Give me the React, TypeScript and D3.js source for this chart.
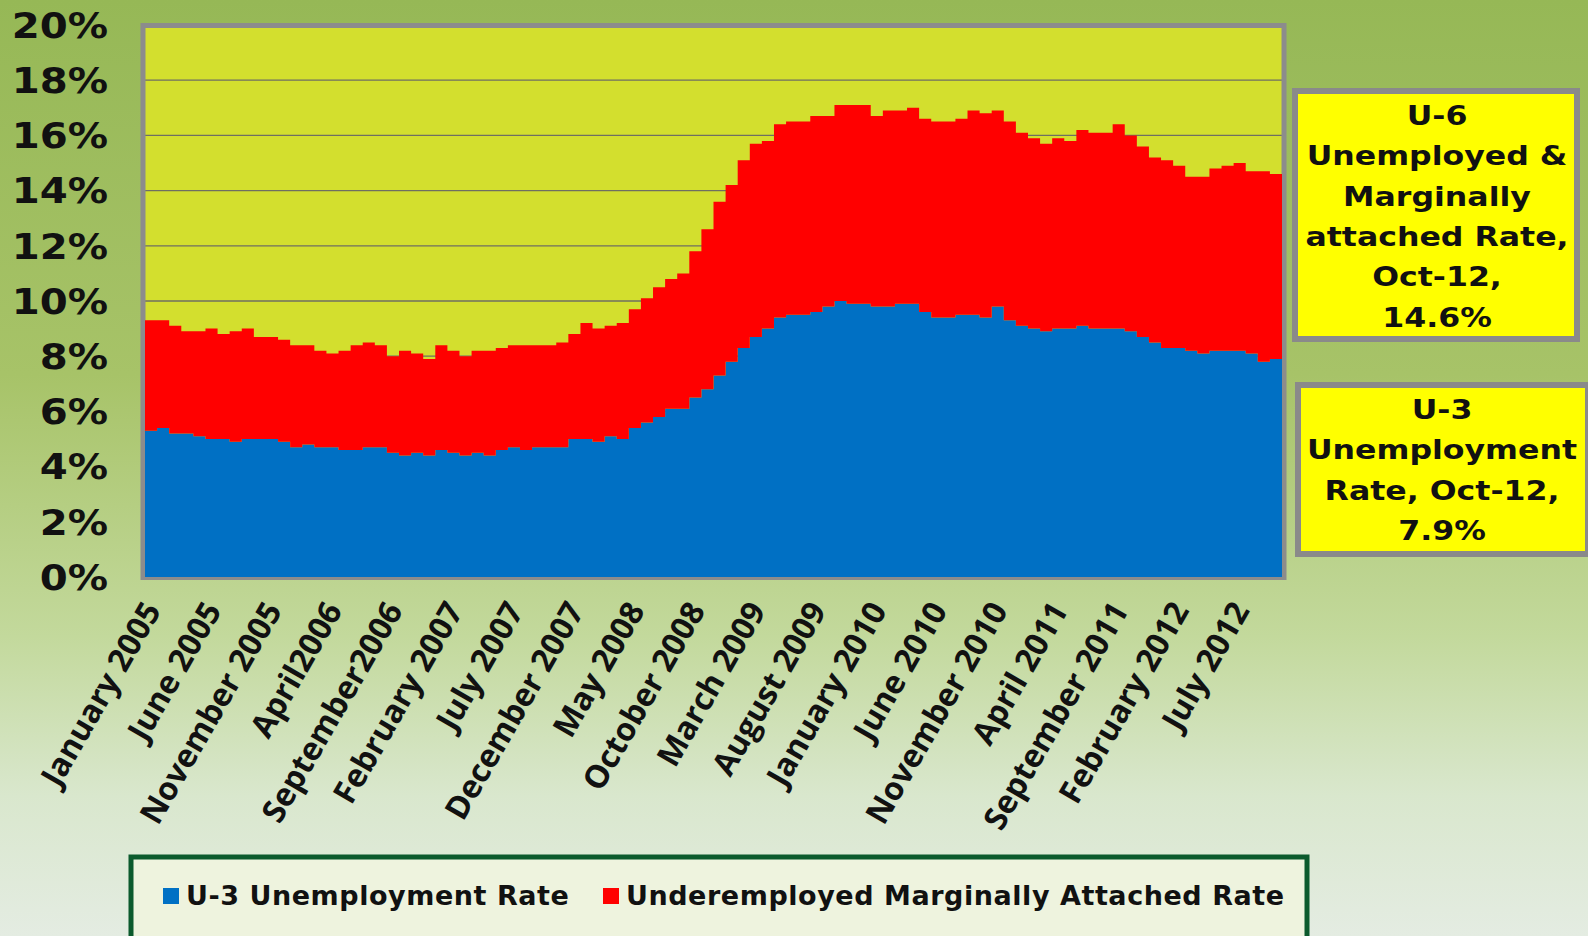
import * as d3 from 'd3';

// monthly rates, Jan 2005 .. Oct 2012 (%)
const u3Rate = [
  5.3, 5.4, 5.2, 5.2, 5.1, 5.0, 5.0, 4.9, 5.0, 5.0, 5.0, 4.9, // 2005
  4.7, 4.8, 4.7, 4.7, 4.6, 4.6, 4.7, 4.7, 4.5, 4.4, 4.5, 4.4, // 2006
  4.6, 4.5, 4.4, 4.5, 4.4, 4.6, 4.7, 4.6, 4.7, 4.7, 4.7, 5.0, // 2007
  5.0, 4.9, 5.1, 5.0, 5.4, 5.6, 5.8, 6.1, 6.1, 6.5, 6.8, 7.3, // 2008
  7.8, 8.3, 8.7, 9.0, 9.4, 9.5, 9.5, 9.6, 9.8, 10.0, 9.9, 9.9, // 2009
  9.8, 9.8, 9.9, 9.9, 9.6, 9.4, 9.4, 9.5, 9.5, 9.4, 9.8, 9.3, // 2010
  9.1, 9.0, 8.9, 9.0, 9.0, 9.1, 9.0, 9.0, 9.0, 8.9, 8.7, 8.5, // 2011
  8.3, 8.3, 8.2, 8.1, 8.2, 8.2, 8.2, 8.1, 7.8, 7.9, // 2012
];

const u6Rate = [
  9.3, 9.3, 9.1, 8.9, 8.9, 9.0, 8.8, 8.9, 9.0, 8.7, 8.7, 8.6,
  8.4, 8.4, 8.2, 8.1, 8.2, 8.4, 8.5, 8.4, 8.0, 8.2, 8.1, 7.9,
  8.4, 8.2, 8.0, 8.2, 8.2, 8.3, 8.4, 8.4, 8.4, 8.4, 8.5, 8.8,
  9.2, 9.0, 9.1, 9.2, 9.7, 10.1, 10.5, 10.8, 11.0, 11.8, 12.6, 13.6,
  14.2, 15.1, 15.7, 15.8, 16.4, 16.5, 16.5, 16.7, 16.7, 17.1, 17.1, 17.1,
  16.7, 16.9, 16.9, 17.0, 16.6, 16.5, 16.5, 16.6, 16.9, 16.8, 16.9, 16.5,
  16.1, 15.9, 15.7, 15.9, 15.8, 16.2, 16.1, 16.1, 16.4, 16.0, 15.6, 15.2,
  15.1, 14.9, 14.5, 14.5, 14.8, 14.9, 15.0, 14.7, 14.7, 14.6,
];

// one label every 5 months, starting at January 2005
const tickLabels = [
  'January 2005', 'June 2005', 'November 2005', 'April2006', 'September2006',
  'February 2007', 'July 2007', 'December 2007', 'May 2008', 'October 2008',
  'March 2009', 'August 2009', 'January 2010', 'June 2010', 'November 2010',
  'April 2011', 'September 2011', 'February 2012', 'July 2012',
];
const tickStep = 5;

const seriesNames = ['U-3 Unemployment Rate', 'Underemployed Marginally Attached Rate'];
const seriesColors = ['#0070c4', '#ff0000'];

const u6Note = ['U-6', 'Unemployed &', 'Marginally', 'attached Rate,', 'Oct-12,', `${u6Rate[u6Rate.length - 1].toFixed(1)}%`];
const u3Note = ['U-3', 'Unemployment', 'Rate, Oct-12,', `${u3Rate[u3Rate.length - 1].toFixed(1)}%`];

type Row = { u3: number; gap: number };

const BOLD = "'DejaVu Sans', Verdana, sans-serif";

function NoteBox({ x, y, w, h, lines, cx, firstBaseline }: {
  x: number; y: number; w: number; h: number; lines: string[]; cx: number; firstBaseline: number;
}) {
  return (
    <g>
      <rect x={x} y={y} width={w} height={h} fill="#ffff00" stroke="#8a8a8a" strokeWidth={6} />
      {lines.map((t, i) => (
        <text
          key={i}
          transform={`translate(${cx},${firstBaseline + i * 40.3}) scale(1.17,1)`}
          textAnchor="middle"
          fontFamily={BOLD}
          fontWeight="bold"
          fontSize={27}
          fill="#111"
        >
          {t}
        </text>
      ))}
    </g>
  );
}

export default function App() {
  const W = 1588;
  const H = 936;
  const plot = { left: 145, right: 1282, top: 25, bottom: 577 };
  const n = u3Rate.length;

  const x = d3.scaleLinear().domain([0, n]).range([plot.left, plot.right]);
  const y = d3.scaleLinear().domain([0, 20]).range([plot.bottom, plot.top]);

  const rows: Row[] = u3Rate.map((u3, i) => ({ u3, gap: +(u6Rate[i] - u3).toFixed(2) }));
  rows.push(rows[n - 1]); // closes the last step
  const stacked = d3.stack<Row>().keys(['u3', 'gap'])(rows);

  const area = d3
    .area<d3.SeriesPoint<Row>>()
    .x((_, i) => x(i))
    .y0((d) => y(d[0]))
    .y1((d) => y(d[1]))
    .curve(d3.curveStepAfter);

  const yTicks = y.ticks(10);
  const angle = 60;
  const rad = (angle * Math.PI) / 180;
  const capH = 0.714 * 32;

  return (
    <svg
      width={W}
      height={H}
      viewBox={`0 0 ${W} ${H}`}
      style={{ position: 'absolute', left: 0, top: 0 }}
    >
      <defs>
        <linearGradient id="bg" x1="0" y1="0" x2="0" y2="1">
          <stop offset="0" stopColor="#96b856" />
          <stop offset="0.4" stopColor="#a7c368" />
          <stop offset="0.68" stopColor="#c3d99c" />
          <stop offset="0.85" stopColor="#d9e7cd" />
          <stop offset="1" stopColor="#e4ece2" />
        </linearGradient>
      </defs>
      <rect width={W} height={H} fill="url(#bg)" />

      {/* plot area */}
      <rect x={plot.left} y={plot.top} width={plot.right - plot.left} height={plot.bottom - plot.top} fill="#d3df2e" />
      {yTicks
        .filter((v) => v > 0 && v < 20)
        .map((v) => (
          <line key={v} x1={plot.left} x2={plot.right} y1={y(v)} y2={y(v)} stroke="#6f6f62" strokeWidth={1.3} />
        ))}
      <rect
        x={plot.left - 2}
        y={plot.top + 0.5}
        width={plot.right - plot.left + 4}
        height={plot.bottom - plot.top}
        fill="none"
        stroke="#8c8c8c"
        strokeWidth={5}
      />
      {stacked.map((s, i) => (
        <path key={s.key} d={area(s) ?? ''} fill={seriesColors[i]} />
      ))}

      {/* y axis */}
      {yTicks.map((v) => (
        <text
          key={v}
          transform={`translate(108,${y(v) + 12.8}) scale(1.15,1)`}
          textAnchor="end"
          fontFamily={BOLD}
          fontWeight="bold"
          fontSize={35}
          fill="#111"
        >
          {`${v}%`}
        </text>
      ))}

      {/* x axis */}
      {tickLabels.map((t, k) => {
        const cx = x(k * tickStep + 0.5);
        const ax = cx - 9 + capH * Math.sin(rad);
        const ay = 599 + capH * Math.cos(rad);
        return (
          <text
            key={t}
            transform={`translate(${ax},${ay}) rotate(${-angle})`}
            textAnchor="end"
            fontFamily="'Open Sans', sans-serif"
            fontWeight={700}
            fontSize={32}
            fill="#111"
          >
            {t}
          </text>
        );
      })}

      {/* call-outs */}
      <NoteBox x={1295} y={91} w={282} h={248} lines={u6Note} cx={1437} firstBaseline={125} />
      <NoteBox x={1298} y={385} w={290} h={169} lines={u3Note} cx={1442} firstBaseline={419} />

      {/* legend */}
      <rect x={131} y={857} width={1176} height={86} fill="#eef3de" stroke="#0b5a2d" strokeWidth={5} />
      {seriesNames.map((name, i) => {
        const lx = [163, 603][i];
        return (
          <g key={name}>
            <rect x={lx} y={888} width={16} height={16} fill={seriesColors[i]} />
            <text
              x={lx + 23}
              y={905}
              fontFamily={BOLD}
              fontWeight="bold"
              fontSize={27}
              letterSpacing={0.55}
              fill="#111"
            >
              {name}
            </text>
          </g>
        );
      })}
    </svg>
  );
}
